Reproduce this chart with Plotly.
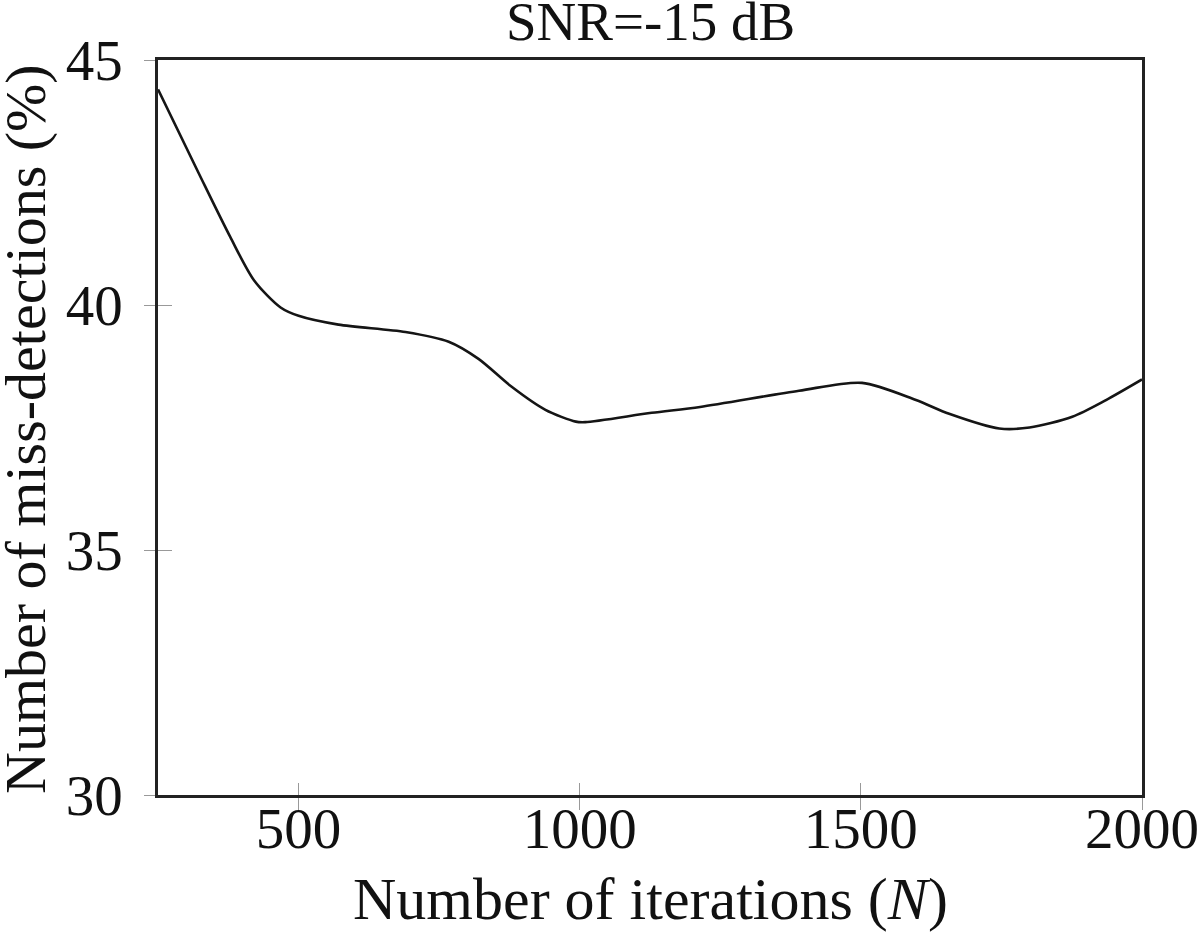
import plotly.graph_objects as go

# Data
iterations = [250, 322, 378, 421, 468, 500, 571, 690, 767, 820, 879, 939, 993,
              1010, 1128, 1214, 1390, 1502, 1598, 1657, 1746, 1800, 1876, 1936, 2000]
miss_detect = [44.40, 42.70, 41.40, 40.50, 39.95, 39.78, 39.60, 39.45, 39.25, 38.90,
               38.33, 37.86, 37.62, 37.61, 37.80, 37.92, 38.25, 38.41, 38.06, 37.78,
               37.48, 37.50, 37.72, 38.06, 38.48]

x_ticks = [500, 1000, 1500, 2000]
y_ticks = [30, 35, 40, 45]

title_text = "SNR=-15 dB"
x_title = "Number of iterations (<i>N</i>)"
y_title = "Number of miss-detections (%)"

FONT = "Liberation Serif"
INK = "#111111"

W, H = 1200, 932
L, T = 158, 60
R = W - 1142
B = H - 795
PW, PH = W - L - R, H - T - B

fig = go.Figure()
fig.add_trace(go.Scatter(
    x=iterations, y=miss_detect, mode="lines",
    line=dict(color="#151515", width=2.6, shape="spline", smoothing=0.8),
    showlegend=False, hoverinfo="skip",
))
# invisible trace on overlay axes to draw inner tick halves
fig.add_trace(go.Scatter(x=[iterations[0]], y=[miss_detect[0]], xaxis="x2", yaxis="y2",
                         mode="markers", marker=dict(opacity=0), showlegend=False,
                         hoverinfo="skip"))

fig.update_layout(
    width=W, height=H,
    margin=dict(l=L, r=R, t=T, b=B),
    paper_bgcolor="white", plot_bgcolor="white",
    font=dict(family=FONT, color=INK),
    xaxis=dict(
        range=[250, 2000], tickvals=x_ticks, ticktext=[str(v) for v in x_ticks],
        ticks="outside", ticklen=12, tickwidth=1, tickcolor="#999999",
        tickfont=dict(family=FONT, size=57, color=INK),
        ticklabelstandoff=-30,
        showline=True, linecolor="#222222", linewidth=2.5, mirror=True,
        showgrid=False, zeroline=False, automargin=False,
    ),
    yaxis=dict(
        range=[30, 45], tickvals=y_ticks, ticktext=[str(v) for v in y_ticks],
        ticks="outside", ticklen=11, tickwidth=1, tickcolor="#999999",
        tickfont=dict(family=FONT, size=57, color=INK),
        ticklabelstandoff=10,
        showline=True, linecolor="#222222", linewidth=2.5, mirror=True,
        showgrid=False, zeroline=False, automargin=False,
    ),
    xaxis2=dict(overlaying="x", matches="x", range=[250, 2000], tickvals=x_ticks,
                ticks="inside", ticklen=12, tickwidth=1, tickcolor="#999999",
                showticklabels=False, showgrid=False, zeroline=False, showline=False,
                automargin=False),
    yaxis2=dict(overlaying="y", matches="y", range=[30, 45], tickvals=y_ticks,
                ticks="inside", ticklen=14, tickwidth=1, tickcolor="#999999",
                showticklabels=False, showgrid=False, zeroline=False, showline=False,
                automargin=False),
    annotations=[
        dict(text=title_text, xref="paper", yref="paper", x=0.5, y=1 + (T - 22) / PH,
             xanchor="center", yanchor="middle", showarrow=False,
             font=dict(family=FONT, size=55, color=INK)),
        dict(text=x_title, xref="paper", yref="paper", x=0.5, y=-(899 - 795) / PH,
             xanchor="center", yanchor="middle", showarrow=False,
             font=dict(family=FONT, size=60, color=INK)),
        dict(text=y_title, xref="paper", yref="paper", x=-(L - 25) / PW,
             y=0.5 - (429 - (60 + 795) / 2) / PH,
             xanchor="center", yanchor="middle", textangle=-90, showarrow=False,
             font=dict(family=FONT, size=58, color=INK)),
    ],
)

fig.write_html("out.html", config={"displayModeBar": False},
               post_script="document.body.style.margin='0px';")
